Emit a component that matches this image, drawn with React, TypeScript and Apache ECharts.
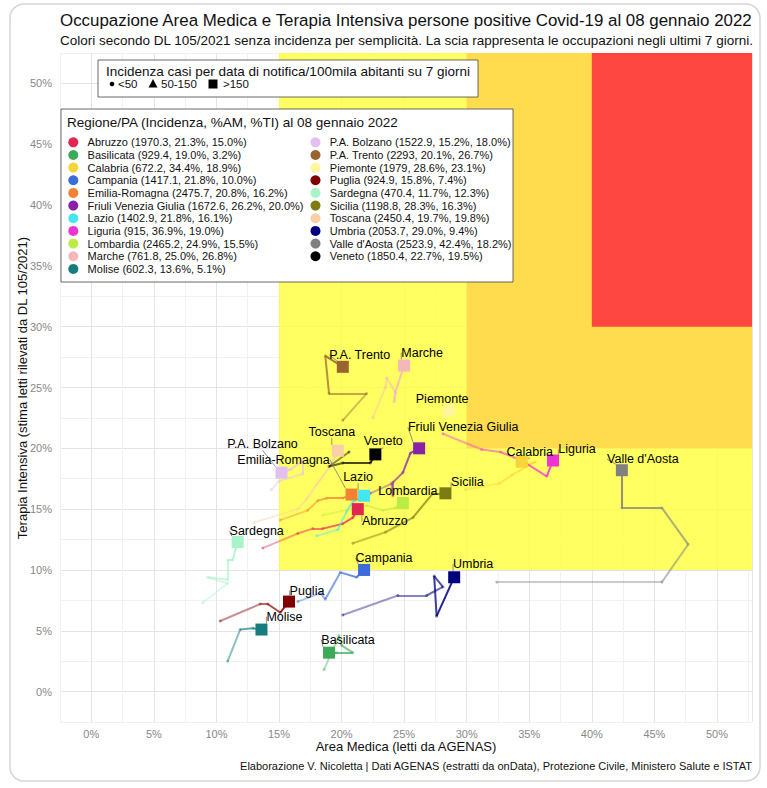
import React, { useEffect, useRef } from "react";
import * as echarts from "echarts";

const REGIONS = [
  "Abruzzo", "Basilicata", "Calabria", "Campania", "Emilia-Romagna",
  "Friuli Venezia Giulia", "Lazio", "Liguria", "Lombardia", "Marche", "Molise",
  "P.A. Bolzano", "P.A. Trento", "Piemonte", "Puglia", "Sardegna", "Sicilia",
  "Toscana", "Umbria", "Valle d'Aosta", "Veneto",
];
const INCIDENCE = [1970.3, 929.4, 672.2, 1417.1, 2475.7, 1672.6, 1402.9, 915, 2465.2, 761.8, 602.3,
  1522.9, 2293, 1979, 924.9, 470.4, 1198.8, 2450.4, 2053.7, 2523.9, 1850.4];
const AM = [21.3, 19.0, 34.4, 21.8, 20.8, 26.2, 21.8, 36.9, 24.9, 25.0, 13.6,
  15.2, 20.1, 28.6, 15.8, 11.7, 28.3, 19.7, 29.0, 42.4, 22.7];
const TI = [15.0, 3.2, 18.9, 10.0, 16.2, 20.0, 16.1, 19.0, 15.5, 26.8, 5.1,
  18.0, 26.7, 23.1, 7.4, 12.3, 16.3, 19.8, 9.4, 18.2, 19.5];
const COLORS = [
  "#E3264F", "#3DAA58", "#F7D43A", "#3D6BD9", "#F08232", "#8A22A8", "#45E6F0",
  "#EE33D6", "#BDEB45", "#F4B8BA", "#157E7C", "#E2C0F2", "#9A6431", "#FFF59C",
  "#800000", "#A9F3C8", "#7C7C12", "#F8D0A8", "#00007F", "#808080", "#000000",
];
// last 7 days' (AM%, TI%) for each region, oldest first, ending at the current value
const TRAILS: number[][][] = [
  [[13.7, 11.8], [16.5, 13.0], [17.7, 13.4], [18.5, 13.4], [20.1, 13.8], [20.9, 14.3], [21.3, 15.0]],
  [[18.6, 1.8], [19.8, 4.6], [20.0, 3.8], [20.9, 3.2], [19.6, 3.2], [19.0, 3.2]],
  [[29.9, 16.6], [32.6, 17.1], [33.6, 17.8], [35.5, 18.9], [34.8, 18.6], [34.4, 18.9]],
  [[16.5, 7.4], [18.3, 8.1], [18.7, 7.6], [19.9, 9.8], [21.2, 9.4], [21.8, 10.0]],
  [[15.1, 14.1], [17.3, 14.9], [18.1, 15.7], [18.8, 15.9], [20.1, 15.9], [20.8, 16.2]],
  [[22.3, 16.3], [24.0, 17.1], [24.1, 16.1], [24.1, 17.2], [24.9, 18.0], [25.5, 19.6], [26.2, 20.0]],
  [[18.0, 12.8], [19.7, 13.3], [20.4, 14.8], [20.9, 15.6], [21.8, 16.1]],
  [[28.1, 21.2], [31.2, 19.9], [32.7, 19.7], [34.4, 19.0], [36.4, 17.7], [36.9, 19.0]],
  [[18.5, 14.5], [22.0, 15.3], [23.3, 14.9], [24.3, 15.1], [24.9, 15.5]],
  [[22.5, 22.5], [23.5, 25.0], [23.6, 25.8], [24.3, 24.6], [24.2, 23.8], [24.3, 24.6], [25.0, 26.8]],
  [[10.9, 2.5], [11.9, 5.1], [12.9, 5.2], [13.6, 5.1]],
  [[14.4, 16.6], [15.0, 17.3], [16.9, 17.9], [16.9, 19.0], [16.0, 18.3], [15.2, 18.0]],
  [[20.1, 22.3], [22.0, 24.5], [19.0, 24.5], [18.7, 27.6], [20.1, 26.7]],
  [[28.2, 22.6], [28.6, 23.1]],
  [[10.3, 5.8], [13.5, 7.2], [14.1, 7.2], [15.1, 6.5], [15.8, 7.4]],
  [[8.9, 7.3], [10.9, 8.9], [9.3, 9.4], [10.9, 9.2], [10.9, 10.8], [11.3, 10.8], [11.7, 12.3]],
  [[20.9, 12.2], [23.5, 13.1], [25.7, 14.3], [27.3, 16.3], [28.3, 16.3]],
  [[13.0, 13.9], [16.5, 15.0], [17.2, 15.8], [18.0, 17.0], [19.0, 18.4], [19.7, 19.8]],
  [[20.1, 6.3], [24.5, 7.9], [26.8, 7.9], [28.1, 8.6], [27.4, 9.5], [27.6, 6.2], [29.0, 9.4]],
  [[32.4, 9.0], [45.6, 9.0], [47.7, 12.1], [45.6, 15.1], [42.4, 15.1], [42.4, 18.2]],
  [[20.6, 19.7], [19.0, 18.5], [20.1, 18.8], [22.3, 18.8], [22.7, 19.5]],
];
// label offsets in pixels (text centre relative to the square)
const LABEL_OFFSETS = [
  [27, 12], [19, -13], [8, -10], [20, -12], [-68, -35], [44, -21], [-6, -19],
  [24, -11], [5, -12], [18, -13], [23, -13], [-19, -29], [17, -12], [-7, -12],
  [18, -11], [19, -11], [22, -11], [-6, -19], [19, -13], [21, -11], [8, -13],
];
// DL 105/2021 thresholds (AM%, TI%)
const ZONE_AM = [15, 30, 40];
const ZONE_TI = [10, 20, 30];
const ZONE_COLORS = ["#FFFF40", "#FFD44A", "#FF263E"];

const TITLE = "Occupazione Area Medica e Terapia Intensiva persone positive Covid-19 al 08 gennaio 2022";
const SUBTITLE = "Colori secondo DL 105/2021 senza incidenza per semplicità. La scia rappresenta le occupazioni negli ultimi 7 giorni.";
const CAPTION = "Elaborazione V. Nicoletta | Dati AGENAS (estratti da onData), Protezione Civile, Ministero Salute e ISTAT";
const X_NAME = "Area Medica (letti da AGENAS)";
const Y_NAME = "Terapia Intensiva (stima letti rilevati da DL 105/2021)";
const LEGEND1_TITLE = "Incidenza casi per data di notifica/100mila abitanti su 7 giorni";
const SHAPE_LABELS = ["<50", "50-150", ">150"];
const LEGEND2_TITLE = "Regione/PA (Incidenza, %AM, %TI) al 08 gennaio 2022";

const XMIN = -2.5, XMAX = 52.8, YMIN = -2.5, YMAX = 52.5;
const FONT = "Liberation Sans, Arial, sans-serif";

export default function App() {
  const ref = useRef<HTMLDivElement>(null);
  useEffect(() => {
    document.body.style.margin = "0";
    const chart = echarts.init(ref.current!, null, { renderer: "svg" });

    const segs: any[] = [];
    const dots: any[] = [];
    TRAILS.forEach((tr, r) => {
      const n = tr.length - 1;
      for (let i = 0; i < n; i++) {
        segs.push({
          coords: [tr[i], tr[i + 1]],
          lineStyle: { color: COLORS[r], opacity: 0.3 + 0.55 * ((i + 1) / n), width: 2 },
        });
        dots.push({ value: tr[i], itemStyle: { color: COLORS[r], opacity: 0.45 } });
      }
    });

    const points = REGIONS.map((name, i) => ({
      name,
      value: [AM[i], TI[i]],
      itemStyle: { color: COLORS[i], opacity: 1 },
    }));

    const zones = ZONE_AM.map((am, i) => [
      { xAxis: am, yAxis: ZONE_TI[i], itemStyle: { color: ZONE_COLORS[i], opacity: 0.82 } },
      { xAxis: XMAX, yAxis: YMAX },
    ]);

    const g: any[] = [];
    g.push({
      type: "rect", shape: { x: 10, y: 4, width: 750, height: 777, r: 14 },
      style: { fill: "none", stroke: "#d6d6d6", lineWidth: 1.5 }, z: 200,
    });
    g.push({ type: "text", x: 60, y: 20, style: { text: TITLE, font: `16.9px ${FONT}`, fill: "#111", textVerticalAlign: "middle" }, z: 200 });
    g.push({ type: "text", x: 60, y: 40, style: { text: SUBTITLE, font: `13.5px ${FONT}`, fill: "#111", textVerticalAlign: "middle" }, z: 200 });
    g.push({ type: "text", x: 406, y: 746, style: { text: X_NAME, font: `13px ${FONT}`, fill: "#111", textAlign: "center", textVerticalAlign: "middle" }, z: 200 });
    g.push({ type: "text", x: 22, y: 388, rotation: Math.PI / 2, style: { text: Y_NAME, font: `13px ${FONT}`, fill: "#111", textAlign: "center", textVerticalAlign: "middle" }, z: 200 });
    g.push({ type: "text", x: 752, y: 766, style: { text: CAPTION, font: `11px ${FONT}`, fill: "#111", textAlign: "right", textVerticalAlign: "middle" }, z: 200 });

    // legend 1 (shapes)
    g.push({ type: "rect", shape: { x: 98, y: 60, width: 380, height: 37 }, style: { fill: "#fff", stroke: "#444", lineWidth: 0.8 }, z: 200 });
    g.push({ type: "text", x: 106, y: 71, style: { text: LEGEND1_TITLE, font: `13.5px ${FONT}`, fill: "#111", textVerticalAlign: "middle" }, z: 201 });
    g.push({ type: "circle", shape: { cx: 112, cy: 84, r: 2.3 }, style: { fill: "#000" }, z: 201 });
    g.push({ type: "text", x: 118, y: 84, style: { text: SHAPE_LABELS[0], font: `11.5px ${FONT}`, fill: "#111", textVerticalAlign: "middle" }, z: 201 });
    g.push({ type: "polygon", shape: { points: [[153, 79], [157.5, 87.5], [148.5, 87.5]] }, style: { fill: "#000" }, z: 201 });
    g.push({ type: "text", x: 161, y: 84, style: { text: SHAPE_LABELS[1], font: `11.5px ${FONT}`, fill: "#111", textVerticalAlign: "middle" }, z: 201 });
    g.push({ type: "rect", shape: { x: 208.5, y: 79.5, width: 9, height: 9 }, style: { fill: "#000" }, z: 201 });
    g.push({ type: "text", x: 223, y: 84, style: { text: SHAPE_LABELS[2], font: `11.5px ${FONT}`, fill: "#111", textVerticalAlign: "middle" }, z: 201 });

    // legend 2 (regions)
    g.push({ type: "rect", shape: { x: 61, y: 109, width: 452, height: 173 }, style: { fill: "#fff", stroke: "#444", lineWidth: 0.8 }, z: 200 });
    g.push({ type: "text", x: 67, y: 122, style: { text: LEGEND2_TITLE, font: `13.5px ${FONT}`, fill: "#111", textVerticalAlign: "middle" }, z: 201 });
    REGIONS.forEach((name, i) => {
      const col = i < 11 ? 0 : 1;
      const row = i < 11 ? i : i - 11;
      const cy = 142.3 + row * 12.66;
      const cx = col === 0 ? 73.3 : 315.5;
      g.push({ type: "circle", shape: { cx, cy, r: 5 }, style: { fill: COLORS[i] }, z: 201 });
      const txt = `${name} (${INCIDENCE[i]}, ${AM[i].toFixed(1)}%, ${TI[i].toFixed(1)}%)`;
      g.push({ type: "text", x: cx + 14.3, y: cy, style: { text: txt, font: `11px ${FONT}`, fill: "#111", textVerticalAlign: "middle" }, z: 201 });
    });

    const axisCommon = {
      type: "value",
      interval: 2.5,
      axisLine: { show: false },
      axisTick: { show: false },
      splitLine: { show: true, lineStyle: { color: ["#f1f1f1", "#e4e4e4"], width: 1 } },
      axisLabel: {
        color: "#888",
        fontSize: 11,
        fontFamily: FONT,
        formatter: (v: number) => (v >= 0 && v <= 50 && Math.abs(v % 5) < 1e-6 ? `${v}%` : ""),
      },
    };

    chart.setOption({
      animation: false,
      backgroundColor: "#fff",
      grid: { left: 60, top: 53, width: 692, height: 669, containLabel: false },
      xAxis: { ...axisCommon, min: XMIN, max: XMAX, axisLabel: { ...axisCommon.axisLabel, margin: 6 } },
      yAxis: { ...axisCommon, min: YMIN, max: YMAX, axisLabel: { ...axisCommon.axisLabel, margin: 8 } },
      graphic: { elements: g },
      series: [
        {
          type: "line",
          data: [],
          z: 1,
          silent: true,
          markArea: { silent: true, data: zones },
        },
        {
          type: "lines",
          coordinateSystem: "cartesian2d",
          z: 3,
          silent: true,
          data: segs,
        },
        {
          type: "scatter",
          z: 4,
          symbolSize: 3,
          silent: true,
          data: dots,
        },
        {
          type: "scatter",
          z: 5,
          symbol: "rect",
          symbolSize: 12,
          itemStyle: { opacity: 1 },
          data: points,
          label: {
            show: true,
            position: "inside",
            formatter: "{b}",
            color: "#000",
            textBorderWidth: 0,
            textBorderColor: "transparent",
            fontSize: 12.5,
            fontFamily: FONT,
          },
          labelLine: { show: true, lineStyle: { color: "#777", width: 0.8 } },
          labelLayout: (p: any) => ({ dx: LABEL_OFFSETS[p.dataIndex][0], dy: LABEL_OFFSETS[p.dataIndex][1] }),
        },
      ],
    });
    return () => chart.dispose();
  }, []);
  return <div ref={ref} style={{ width: 767, height: 788 }} />;
}
